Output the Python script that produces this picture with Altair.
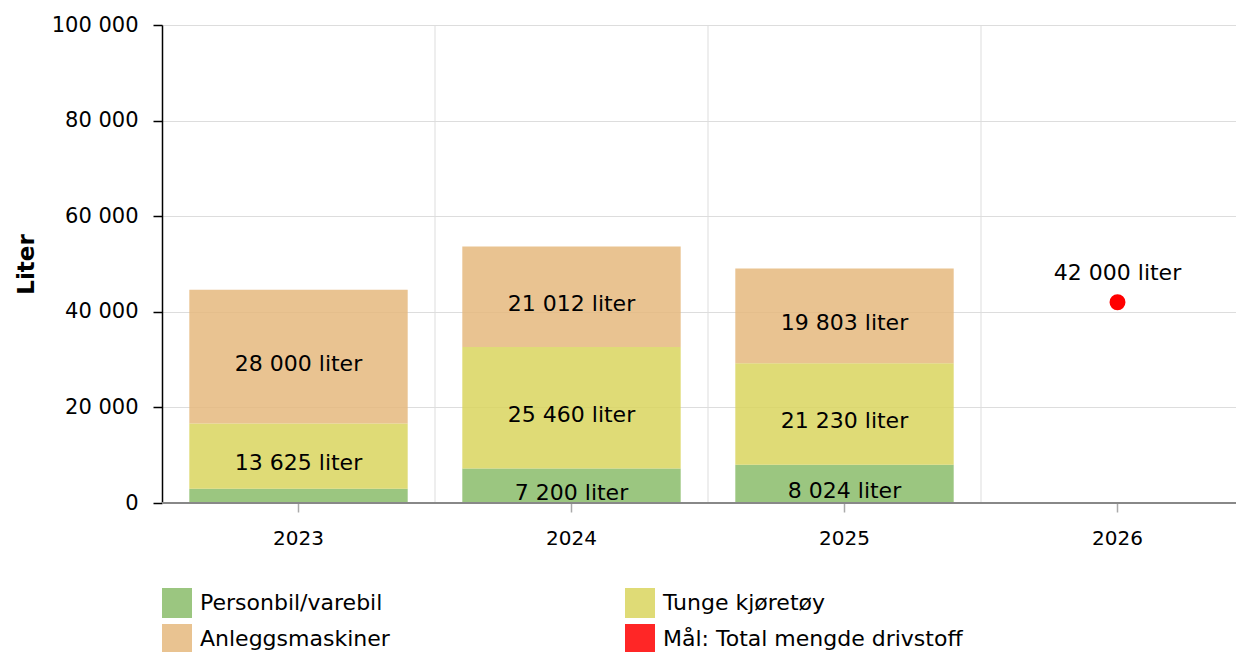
import altair as alt
import pandas as pd

# ---- data ----
years = ["2023", "2024", "2025"]
all_years = ["2023", "2024", "2025", "2026"]
categories = ["Personbil/varebil", "Tunge kjøretøy", "Anleggsmaskiner"]
personbil = [3000, 7200, 8024]
tunge = [13625, 25460, 21230]
anlegg = [28000, 21012, 19803]
target_label = "Mål: Total mengde drivstoff"
target_year = ["2026"]
target_value = [42000]

colors_domain = categories + [target_label]
colors_range = ["#8abc6a", "#d9d55e", "#e5b87e", "#ff0000"]

rows = []
for i, y in enumerate(years):
    for k, (cat, vals) in enumerate(zip(categories, [personbil, tunge, anlegg])):
        rows.append({"year": y, "kategori": cat, "value": vals[i], "order": k})
df = pd.DataFrame(rows)
df_target = pd.DataFrame({"year": target_year, "value": target_value, "kategori": [target_label]})
df_grid = pd.DataFrame({"year": all_years[1:]})
df_base = pd.DataFrame({"base": [0]})

FONT = "DejaVu Sans"
W, H = 1074, 478
BAND_RANGE = 1092  # the last band runs past the visible right edge, as in the reference

x_scale = alt.Scale(domain=all_years, paddingInner=0, paddingOuter=0, range=[0, BAND_RANGE])
x_axis = alt.Axis(title=None, labelAngle=0, grid=False, domain=False, tickSize=9,
                  tickColor="#aaaaaa", tickWidth=1.5, labelPadding=16,
                  labelFontSize=20, labelColor="#000000", labelFont=FONT)
y_scale = alt.Scale(domain=[0, 100000], nice=False)
y_axis = alt.Axis(title="Liter", values=[0, 20000, 40000, 60000, 80000, 100000],
                  labelExpr="replace(format(datum.value, ','), ',', ' ')",
                  tickSize=9, tickColor="#000000", tickWidth=1.5, domainColor="#000000",
                  domainWidth=1.5, labelPadding=15, labelFontSize=21, labelColor="#000000",
                  labelFont=FONT, titleFont=FONT, titleFontSize=23, titleFontWeight="bold",
                  titleColor="#000000", titlePadding=13, grid=True, gridColor="#dddddd",
                  gridWidth=1)

color = alt.Color("kategori:N", scale=alt.Scale(domain=colors_domain, range=colors_range),
                  legend=alt.Legend(title=None, orient="none", legendX=0, legendY=563,
                                    direction="horizontal", columns=2, symbolType="square",
                                    symbolSize=900, symbolOpacity=0.85, symbolStrokeWidth=0,
                                    labelFontSize=22, labelFont=FONT, labelColor="#000000",
                                    labelOffset=8, columnPadding=235, rowPadding=6,
                                    labelLimit=400))

grid = alt.Chart(df_grid).mark_rule(color="#dddddd", strokeWidth=1).encode(
    x=alt.X("year:N", scale=x_scale, axis=x_axis, bandPosition=0)
)

bars = alt.Chart(df).mark_bar(width=alt.RelativeBandSize(0.8), opacity=0.85).encode(
    x=alt.X("year:N", scale=x_scale, axis=x_axis),
    y=alt.Y("value:Q", scale=y_scale, axis=y_axis, stack="zero"),
    color=color,
    order=alt.Order("order:Q"),
)

labels = alt.Chart(df).transform_stack(
    stack="value", groupby=["year"], as_=["y0", "y1"], sort=[alt.SortField("order")]
).transform_calculate(
    mid="(datum.y0 + datum.y1) / 2",
    label="replace(format(datum.value, ','), ',', ' ') + ' liter'",
).transform_filter("datum.value >= 5000").mark_text(
    font=FONT, fontSize=22, color="#000000", baseline="middle", dy=7
).encode(
    x=alt.X("year:N", scale=x_scale, axis=x_axis),
    y=alt.Y("mid:Q", scale=y_scale, axis=y_axis),
    text="label:N",
)

point = alt.Chart(df_target).mark_circle(size=254, opacity=1).encode(
    x=alt.X("year:N", scale=x_scale, axis=x_axis),
    y=alt.Y("value:Q", scale=y_scale, axis=y_axis),
    color=color,
)

point_label = alt.Chart(df_target).transform_calculate(
    label="replace(format(datum.value, ','), ',', ' ') + ' liter'"
).mark_text(font=FONT, fontSize=22, color="#000000", baseline="middle", dy=-29).encode(
    x=alt.X("year:N", scale=x_scale, axis=x_axis),
    y=alt.Y("value:Q", scale=y_scale, axis=y_axis),
    text="label:N",
)

baseline = alt.Chart(df_base).mark_rule(color="#888888", strokeWidth=2).encode(
    y=alt.Y("base:Q", scale=y_scale, axis=y_axis)
)

chart = alt.layer(grid, bars, labels, point, point_label, baseline).properties(
    width=W, height=H,
    autosize=alt.AutoSizeParams(type="none"),
    padding={"left": 154, "top": 17, "right": 0, "bottom": 149},
).configure_view(stroke=None).configure(font=FONT)

chart.save("out.html", embed_options={"renderer": "svg", "actions": False})
